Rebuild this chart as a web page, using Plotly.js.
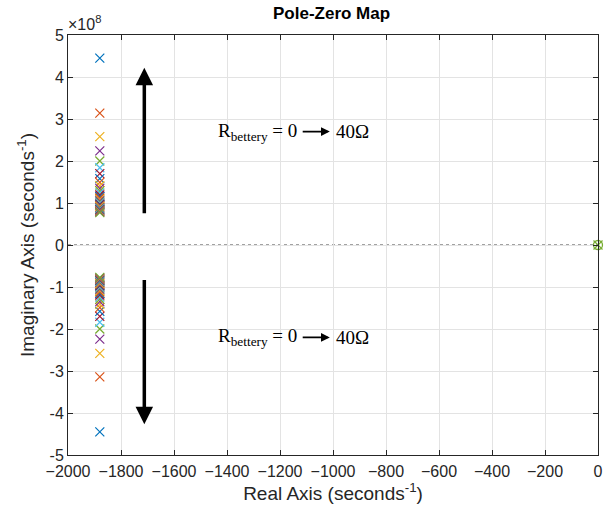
<!DOCTYPE html>
<html><head><meta charset="utf-8">
<script src="https://cdn.plot.ly/plotly-3.0.1.min.js"></script>
<style>html,body{margin:0;padding:0;background:#fff}</style>
</head><body>
<div id="chart" style="width:614px;height:520px"></div>
<script>
// Pole real part (s^-1) shared by all configurations
const poleReal = -1880;
// Imaginary parts (positive half, x1e8 s^-1) of the complex pole pairs, one per R value
const poleImag = [4.45, 3.14, 2.58, 2.24, 2.00, 1.84, 1.70, 1.58, 1.49, 1.41, 1.35, 1.29, 1.24,
  1.19, 1.15, 1.12, 1.08, 1.05, 1.02, 1.00, 0.97, 0.95, 0.93, 0.91, 0.89, 0.87, 0.86, 0.84,
  0.83, 0.81, 0.80, 0.79, 0.77];
// Zero / pole at origin
const originX = [0];
const originY = [0];
const colors = ['#0072BD','#D95319','#EDB120','#7E2F8E','#77AC30','#4DBEEE','#A2142F'];
const xTicks = [-2000,-1800,-1600,-1400,-1200,-1000,-800,-600,-400,-200,0];
const yTickVals = [-5,-4,-3,-2,-1,0,1,2,3,4,5];
const scale = 1e8;

const traces = poleImag.map((v, i) => ({
  type: 'scatter', mode: 'markers', cliponaxis: false,
  x: [poleReal, poleReal], y: [v*scale, -v*scale],
  marker: {symbol: 'x-thin-open', size: 9, color: colors[i % 7], line: {width: 1.2, color: colors[i % 7]}},
  hoverinfo: 'x+y', showlegend: false
}));
traces.push({type:'scatter', mode:'markers', cliponaxis:false, x: originX, y: originY,
  marker:{symbol:'circle-open', size:9, color:'#77AC30', line:{width:1.3, color:'#77AC30'}}, showlegend:false});
traces.push({type:'scatter', mode:'markers', cliponaxis:false, x: originX, y: originY,
  marker:{symbol:'x-thin-open', size:9, color:'#77AC30', line:{width:1.3, color:'#77AC30'}}, showlegend:false});

const serif = {family: 'Liberation Serif, Times New Roman, serif', size: 19, color: '#000'};
const sans = 'Liberation Sans, Arial, Helvetica, sans-serif';
function label(x, y, text, anchor){ return {x, y, xref:'x', yref:'y', text, showarrow:false, font: serif, xanchor: anchor, yanchor:'middle'}; }
function arrow(x0, y0, x1, y1, w, hs){ return {x: x1, y: y1, ax: x0, ay: y0, xref:'x', yref:'y', axref:'x', ayref:'y', text:'', showarrow:true, arrowhead:2, arrowsize: hs, arrowwidth: w, arrowcolor:'#000'}; }

const annotations = [
  arrow(-1712, 0.72*scale, -1712, 4.22*scale, 3.5, 1),
  arrow(-1712, -0.80*scale, -1712, -4.27*scale, 3.5, 1),
  label(-1440, 2.70*scale, 'R<sub>bettery</sub> = 0', 'left'),
  arrow(-1120, 2.70*scale, -1012, 2.70*scale, 1.6, 1.1),
  label(-997, 2.70*scale, '40Ω', 'left'),
  label(-1440, -2.20*scale, 'R<sub>bettery</sub> = 0', 'left'),
  arrow(-1120, -2.20*scale, -1012, -2.20*scale, 1.6, 1.1),
  label(-997, -2.20*scale, '40Ω', 'left'),
  {xref:'paper', yref:'paper', x: 0, y: 1, xanchor:'left', yanchor:'bottom', yshift: 0, xshift: -2,
   text:'×10<sup>8</sup>', showarrow:false, font:{family:sans, size:16, color:'#262626'}}
];

const axisCommon = {showline:true, linecolor:'#262626', linewidth:1, mirror:'ticks', ticks:'inside', ticklen:5,
  tickcolor:'#262626', showgrid:true, gridcolor:'#e3e3e3', zeroline:false,
  tickfont:{family:sans, size:16, color:'#262626'}};

const layout = {
  width:614, height:520, paper_bgcolor:'#fff', plot_bgcolor:'#fff',
  margin:{l:68, r:16, t:35, b:65},
  title:{text:'<b>Pole-Zero Map</b>', x:0.54, xanchor:'center', y:0.975, yanchor:'middle',
    font:{family:sans, size:17, color:'#000'}},
  xaxis: Object.assign({}, axisCommon, {range:[-2000,0], tickvals:xTicks, ticklabelstandoff: 2,
    title:{text:'Real Axis (seconds<sup>-1</sup>)', standoff:4, font:{family:sans, size:19, color:'#262626'}}}),
  yaxis: Object.assign({}, axisCommon, {range:[-5*scale,5*scale], tickvals: yTickVals.map(v=>v*scale), ticktext: yTickVals.map(String),
    title:{text:'Imaginary Axis (seconds<sup>-1</sup>)', standoff:9, font:{family:sans, size:19, color:'#262626'}}}),
  shapes:[{type:'line', xref:'paper', yref:'y', x0:0, x1:1, y0:0, y1:0, line:{color:'#444', width:1, dash:'dot'}, layer:'below'}],
  annotations
};
Plotly.newPlot('chart', traces, layout, {displayModeBar:false, staticPlot:true});
</script>
</body></html>
